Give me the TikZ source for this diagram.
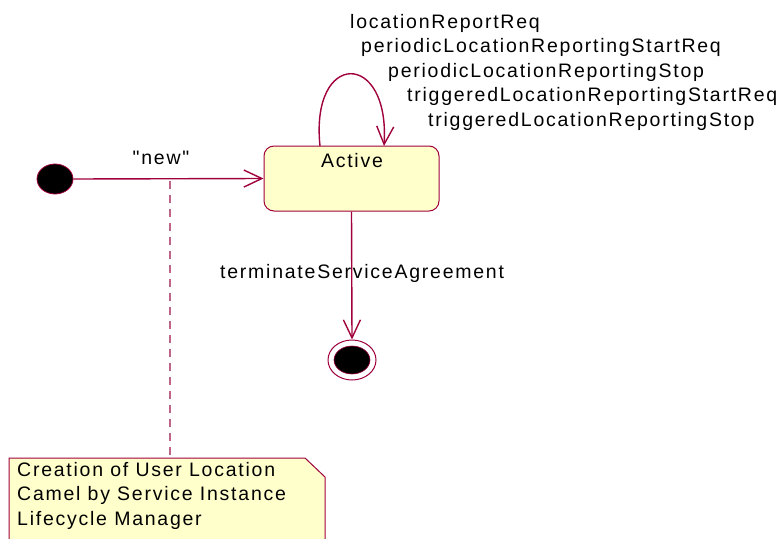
\documentclass[tikz,border=0pt]{standalone}
\usepackage{fontspec}
\setmainfont{Liberation Sans}[LetterSpace=9, Ligatures=TeXOff]
\usetikzlibrary{arrows.meta,shapes.geometric}
\definecolor{lineRed}{HTML}{A0003C}
\definecolor{noteLink}{HTML}{C0658A}
\definecolor{stateFill}{HTML}{FFFFCC}
\begin{document}
\begin{tikzpicture}[x=1pt,y=-1pt,
  every node/.style={font=\fontsize{19.5}{22}\selectfont, inner sep=0pt},
  conn/.style={draw=lineRed, line width=1.4pt},
  openarrow/.style={-{Straight Barb[length=18pt,width=17pt,line width=1.4pt]}},
  lbl/.style={anchor=west, text=black},
  statebox/.style={draw=lineRed, fill=stateFill, rounded corners=10pt, line width=1pt, minimum width=175pt, minimum height=65pt}
]
\useasboundingbox (0,0) rectangle (784,538);
% initial state
\node[ellipse, fill=black, draw=lineRed, line width=0.8pt, minimum width=36pt, minimum height=30pt] (init) at (55,179) {};
% Active state
\node[statebox] (active) at (351.5,178.5) {};
\node[anchor=center] (activelbl) at (352,161) {Active};
% final state
\node[ellipse, draw=lineRed, line width=1pt, fill=white, minimum width=48pt, minimum height=40pt] (final) at (352,360) {};
\node[ellipse, fill=black, draw=lineRed, line width=0.6pt, minimum width=36pt, minimum height=28pt] (finalin) at (352,360) {};
% transitions
\draw[conn, openarrow] (init.east) -- (active.west) coordinate[pos=0.5] (mid);
\node (newlbl) at (161,158) {"new"};
\draw[conn, openarrow] (active.south) -- (final.north);
\node[lbl] (term) at (220,273) {terminateServiceAgreement};
% self loop
\coordinate (loopS) at (320,146);
\coordinate (loopE) at (384,146);
\draw[conn, openarrow] (loopS) .. controls (310,50) and (390,50) .. (loopE);
\node[lbl] (l1) at (350,23) {locationReportReq};
\node[lbl] (l2) at (361,47.5) {periodicLocationReportingStartReq};
\node[lbl] (l3) at (388,72) {periodicLocationReportingStop};
\node[lbl] (l4) at (407,96.5) {triggeredLocationReportingStartReq};
\node[lbl] (l5) at (428,121) {triggeredLocationReportingStop};
% note
\draw[draw=lineRed, fill=stateFill, line width=1pt] (9,545) -- (9,458) -- (305,458) -- (325,477) -- (325,545);
\node[anchor=north west, align=left, font=\fontsize{19.5}{24.5}\selectfont] (note) at (17,462) {Creation of User Location\\Camel by Service Instance\\Lifecycle Manager};
\coordinate (notetop) at (170,458);
\draw[draw=noteLink, line width=1.3pt, dash pattern=on 8pt off 6pt] (170,181) -- (notetop);
\end{tikzpicture}
\end{document}
